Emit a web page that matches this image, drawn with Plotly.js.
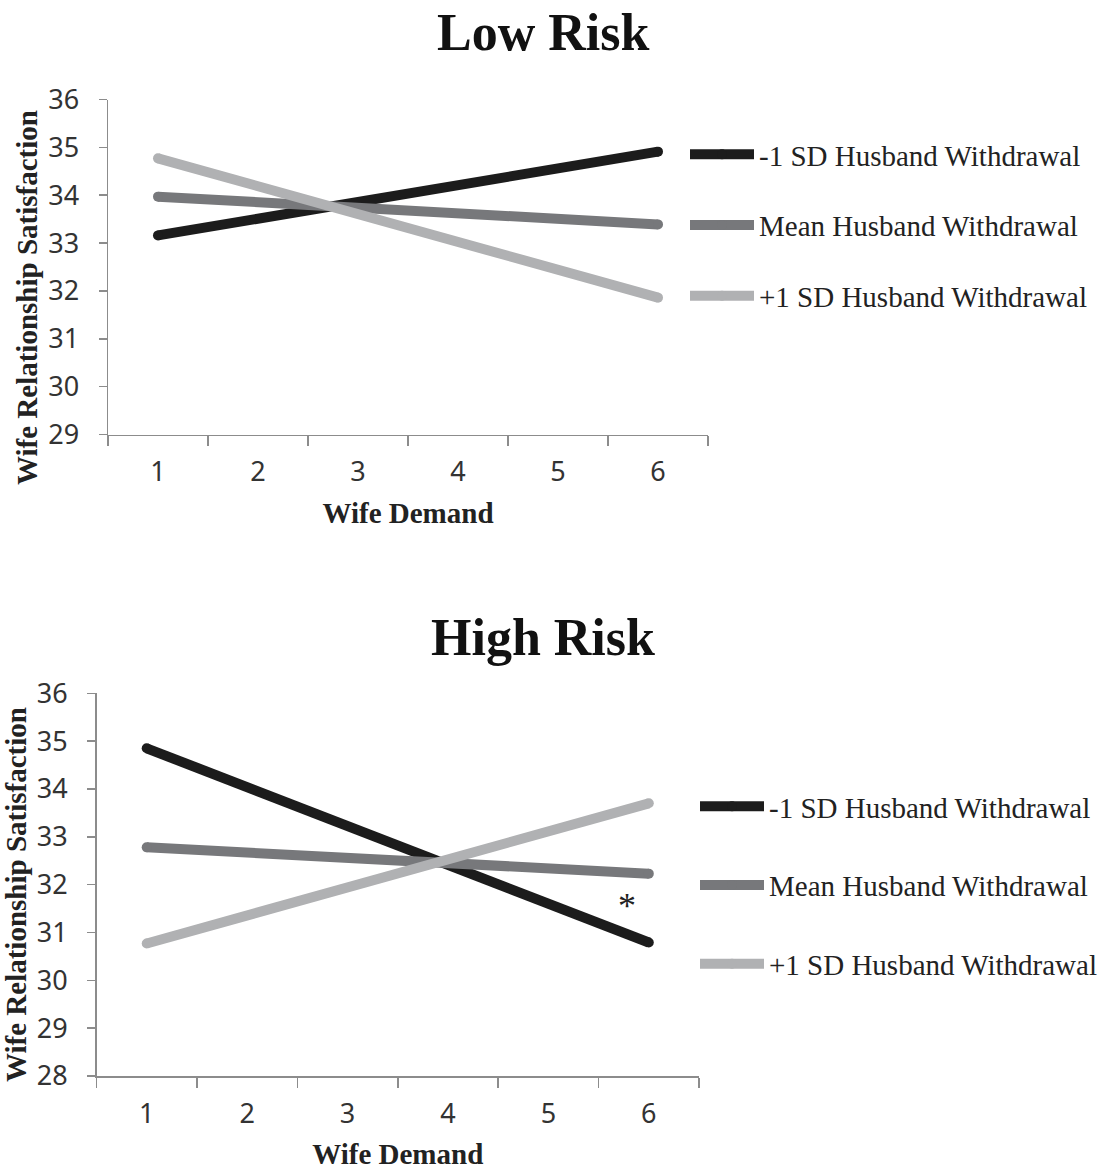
<!DOCTYPE html>
<html>
<head>
<meta charset="utf-8">
<script src="https://cdn.plot.ly/plotly-3.0.1.min.js"></script>
<style>html,body{margin:0;padding:0;background:#fff;}#chart{width:1113px;height:1171px;}</style>
</head>
<body>
<div id="chart"></div>
<script>
// Data
var demandLevels = [1, 2, 3, 4, 5, 6];
var demandEnds = [1, 6];
var seriesNames = ["-1 SD Husband Withdrawal", "Mean Husband Withdrawal", "+1 SD Husband Withdrawal"];
var lowRiskNeg = [33.16, 34.91];
var lowRiskMean = [33.97, 33.39];
var lowRiskPos = [34.77, 31.86];
var highRiskNeg = [34.85, 30.79];
var highRiskMean = [32.78, 32.23];
var highRiskPos = [30.77, 33.70];
var panelTitles = ["Low Risk", "High Risk"];
var xTitle = "Wife Demand";
var yTitle = "Wife Relationship Satisfaction";

var colors = ["#1c1c1c", "#77787b", "#b0b1b3"];
var serif = "Liberation Serif, Times New Roman, serif";
var sans = "Noto Sans, Open Sans, sans-serif";

function mk(y, i, xa, ya, leg) {
  return {
    x: demandEnds, y: y, xaxis: xa, yaxis: ya, name: seriesNames[i],
    mode: "lines+markers", legend: leg, legendgroup: leg + i,
    line: {color: colors[i], width: 10},
    marker: {color: colors[i], size: 10},
    hoverinfo: "skip"
  };
}
var data = [
  mk(lowRiskNeg, 0, "x", "y", "legend"),
  mk(lowRiskMean, 1, "x", "y", "legend"),
  mk(lowRiskPos, 2, "x", "y", "legend"),
  mk(highRiskNeg, 0, "x2", "y2", "legend2"),
  mk(highRiskMean, 1, "x2", "y2", "legend2"),
  mk(highRiskPos, 2, "x2", "y2", "legend2")
];

function xax(domain, anchor) {
  return {
    domain: domain, anchor: anchor, range: [0.5, 6.5], fixedrange: true,
    tickvals: demandLevels, ticktext: demandLevels.map(String), ticks: "",
    ticklabelstandoff: 13,
    minor: {tickvals: [0.5, 1.5, 2.5, 3.5, 4.5, 5.5, 6.5], ticks: "outside", ticklen: 10, tickwidth: 1.5, tickcolor: "#8c8c8c"},
    showline: true, linecolor: "#8c8c8c", linewidth: 1.5, showgrid: false, zeroline: false,
    tickfont: {family: sans, size: 27, color: "#333"},
    title: {text: "<b>" + xTitle + "</b>", font: {family: serif, size: 29, color: "#222"}, standoff: 14}
  };
}
function yax(domain, anchor, range) {
  return {
    domain: domain, anchor: anchor, range: range, dtick: 1, fixedrange: true,
    ticks: "outside", ticklen: 8, tickwidth: 1.5, tickcolor: "#8c8c8c",
    ticklabelstandoff: 14,
    showline: true, linecolor: "#8c8c8c", linewidth: 1.5, showgrid: false, zeroline: false,
    tickfont: {family: sans, size: 27, color: "#333"}
  };
}

var legendFont = {family: serif, size: 29, color: "#222"};
var layout = {
  width: 1113, height: 1171,
  margin: {l: 0, r: 0, t: 0, b: 0},
  paper_bgcolor: "#fff", plot_bgcolor: "#fff",
  showlegend: true,
  xaxis: xax([108/1113, 708/1113], "y"),
  yaxis: yax([(1171-434.5)/1171, (1171-99.5)/1171], "x", [29, 36]),
  xaxis2: xax([96.5/1113, 699/1113], "y2"),
  yaxis2: yax([(1171-1076)/1171, (1171-693.3)/1171], "x2", [28, 36]),
  legend: {x: 685/1113, y: (1171-129)/1171, xanchor: "left", yanchor: "top",
    font: legendFont, tracegroupgap: 30, itemwidth: 64, bgcolor: "rgba(0,0,0,0)"},
  legend2: {x: 695/1113, y: (1171-781)/1171, xanchor: "left", yanchor: "top",
    font: legendFont, tracegroupgap: 38, itemwidth: 64, bgcolor: "rgba(0,0,0,0)"},
  annotations: [
    {text: "<b>" + panelTitles[0] + "</b>", xref: "paper", yref: "paper", x: 543/1113, y: (1171-33)/1171,
     xanchor: "center", yanchor: "middle", showarrow: false, font: {family: serif, size: 52, color: "#111"}},
    {text: "<b>" + panelTitles[1] + "</b>", xref: "paper", yref: "paper", x: 543/1113, y: (1171-637)/1171,
     xanchor: "center", yanchor: "middle", showarrow: false, font: {family: serif, size: 52, color: "#111"}},
    {text: "<b>" + yTitle + "</b>", xref: "paper", yref: "paper", x: 27/1113, y: (1171-298)/1171,
     xanchor: "center", yanchor: "middle", textangle: -90, showarrow: false, font: {family: serif, size: 29, color: "#222"}},
    {text: "<b>" + yTitle + "</b>", xref: "paper", yref: "paper", x: 16/1113, y: (1171-895)/1171,
     xanchor: "center", yanchor: "middle", textangle: -90, showarrow: false, font: {family: serif, size: 29, color: "#222"}},
    {text: "*", xref: "x2", yref: "y2", x: 5.78, y: 31.55, showarrow: false,
     font: {family: serif, size: 36, color: "#222"}}
  ]
};

Plotly.newPlot("chart", data, layout, {displayModeBar: false, staticPlot: true});
</script>
</body>
</html>
